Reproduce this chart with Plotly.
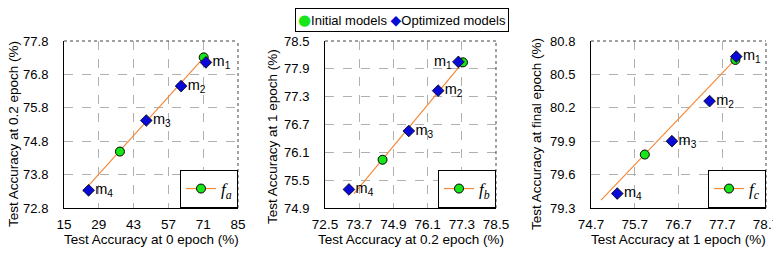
import plotly.graph_objects as go

labels = ["m<sub>1</sub>", "m<sub>2</sub>", "m<sub>3</sub>", "m<sub>4</sub>"]

# Panel a
a_init_x = [71.2, 37.5]
a_init_y = [77.31, 74.49]
a_opt_x = [72.1, 62.1, 48.1, 24.9]
a_opt_y = [77.16, 76.45, 75.42, 73.33]
a_fit_x = [22.6, 71.2]
a_fit_y = [73.28, 77.30]
a_xticks = [15, 29, 43, 57, 71, 85]
a_yticks = [72.8, 73.8, 74.8, 75.8, 76.8, 77.8]

# Panel b
b_init_x = [77.34, 74.52]
b_init_y = [78.04, 75.94]
b_opt_x = [77.18, 76.47, 75.44, 73.34]
b_opt_y = [78.05, 77.43, 76.56, 75.30]
b_fit_x = [73.52, 77.30]
b_fit_y = [75.21, 78.01]
b_xticks = [72.5, 73.7, 74.9, 76.1, 77.3, 78.5]
b_yticks = [74.9, 75.5, 76.1, 76.7, 77.3, 77.9, 78.5]

# Panel c
c_init_x = [78.0, 75.93]
c_init_y = [80.63, 79.78]
c_opt_x = [78.02, 77.41, 76.55, 75.30]
c_opt_y = [80.66, 80.26, 79.90, 79.43]
c_fit_x = [74.93, 77.96]
c_fit_y = [79.37, 80.62]
c_xticks = [74.7, 75.7, 76.7, 77.7, 78.7]
c_yticks = [79.3, 79.6, 79.9, 80.2, 80.5, 80.8]

series_names = ["Initial models", "Optimized models"]
fit_names = ["<i>f</i><sub><i>a</i></sub>", "<i>f</i><sub><i>b</i></sub>", "<i>f</i><sub><i>c</i></sub>"]
x_titles = ["Test Accuracy at 0 epoch (%)", "Test Accuracy at 0.2 epoch (%)", "Test Accuracy at 1 epoch (%)"]
y_titles = ["Test Accuracy at 0.2 epoch (%)", "Test Accuracy at 1 epoch (%)", "Test Accuracy at final epoch (%)"]

GREEN = "#19e619"
BLUE = "#0a0ad8"
ORANGE = "#f5893a"
FONT = "Liberation Sans, Arial, sans-serif"

panels = [
    (a_init_x, a_init_y, a_opt_x, a_opt_y, a_fit_x, a_fit_y, a_xticks, a_yticks,
     ["middle right"] * 4),
    (b_init_x, b_init_y, b_opt_x, b_opt_y, b_fit_x, b_fit_y, b_xticks, b_yticks,
     ["middle left", "middle right", "middle right", "middle right"]),
    (c_init_x, c_init_y, c_opt_x, c_opt_y, c_fit_x, c_fit_y, c_xticks, c_yticks,
     ["middle right"] * 4),
]

# page has an 8px body margin; figure is sized to fit the 781x253 window
W, H, OFF = 773, 245, 8
def px_x(p):
    return (p - OFF) / W
def px_y(q):
    return 1 - (q - OFF) / H

plot_px = [(64, 238), (325, 496), (591, 766)]
xdomains = [(px_x(a), px_x(b)) for a, b in plot_px]
ydomain = (px_y(208), px_y(41))
ytitle_px = [(14, 134), (272, 137), (537, 134)]
xtitle_py = 239

fig = go.Figure()
layout = dict(
    width=W, height=H,
    margin=dict(l=0, r=0, t=0, b=0, autoexpand=False),
    paper_bgcolor="white", plot_bgcolor="white",
    font=dict(family=FONT, size=13, color="black"),
    showlegend=True,
)
shapes = []
annotations = []

for i, (ix, iy, ox, oy, fx, fy, xt, yt, tpos) in enumerate(panels):
    n = "" if i == 0 else str(i + 1)
    xa, ya = "x" + n, "y" + n
    leg = "legend" + str(i + 2)
    fig.add_trace(go.Scatter(x=fx, y=fy, mode="lines", line=dict(color=ORANGE, width=1.2),
                             xaxis=xa, yaxis=ya, showlegend=False, hoverinfo="skip"))
    fig.add_trace(go.Scatter(x=ix, y=iy, mode="markers", name=series_names[0],
                             marker=dict(symbol="circle", size=9, color=GREEN,
                                         line=dict(color="black", width=1)),
                             xaxis=xa, yaxis=ya, showlegend=False))
    fig.add_trace(go.Scatter(x=ox, y=oy, mode="markers+text", name=series_names[1],
                             text=labels, textposition=tpos,
                             textfont=dict(family=FONT, size=14.5, color="black"),
                             marker=dict(symbol="diamond", size=9, color=BLUE,
                                         line=dict(color="black", width=0.8)),
                             xaxis=xa, yaxis=ya, showlegend=False))
    # legend sample for the fitted function
    fig.add_trace(go.Scatter(x=[None], y=[None], mode="lines+markers", name=fit_names[i],
                             line=dict(color=ORANGE, width=1.2),
                             marker=dict(symbol="circle", size=9, color=GREEN,
                                         line=dict(color="black", width=1)),
                             xaxis=xa, yaxis=ya, showlegend=True, legend=leg))
    layout["xaxis" + n] = dict(
        domain=list(xdomains[i]), anchor=ya, range=[xt[0], xt[-1]],
        tickvals=xt, ticktext=[("%g" % v) for v in xt],
        showgrid=True, gridcolor="#b0b0b0", griddash="dash", gridwidth=1,
        showline=True, linecolor="black", linewidth=1,
        ticks="", ticklabelstandoff=4, automargin=False,
        tickfont=dict(size=13.5), zeroline=False,
    )
    layout["yaxis" + n] = dict(
        domain=list(ydomain), anchor=xa, range=[yt[0], yt[-1]],
        tickvals=yt, ticktext=[("%.1f" % v) for v in yt],
        showgrid=True, gridcolor="#b0b0b0", griddash="dash", gridwidth=1,
        showline=True, linecolor="black", linewidth=1,
        ticks="", ticklabelstandoff=12, automargin=False,
        tickfont=dict(size=13), zeroline=False,
    )
    layout[leg] = dict(
        x=xdomains[i][1], xanchor="right", y=ydomain[0], yanchor="bottom",
        xref="paper", yref="paper",
        bgcolor="white", bordercolor="black", borderwidth=1,
        font=dict(family="Liberation Serif, Times New Roman, serif", size=17),
        itemwidth=30, tracegroupgap=0,
    )
    # axis titles
    annotations.append(dict(
        text=x_titles[i], x=(xdomains[i][0] + xdomains[i][1]) / 2, y=px_y(xtitle_py),
        xref="paper", yref="paper", xanchor="center", yanchor="middle",
        showarrow=False, font=dict(family=FONT, size=13.5, color="black"),
    ))
    annotations.append(dict(
        text=y_titles[i], x=px_x(ytitle_px[i][0]), y=px_y(ytitle_px[i][1]),
        xref="paper", yref="paper", xanchor="center", yanchor="middle",
        textangle=-90, showarrow=False, font=dict(family=FONT, size=13.5, color="black"),
    ))
    # dotted top/right frame
    shapes.append(dict(type="line", xref=xa + " domain", yref=ya + " domain",
                       x0=0, x1=1, y0=1, y1=1, line=dict(color="#444", width=1, dash="dot")))
    shapes.append(dict(type="line", xref=xa + " domain", yref=ya + " domain",
                       x0=1, x1=1, y0=0, y1=1, line=dict(color="#444", width=1, dash="dot")))

# Main shared legend (compact, boxed)
main_legend = (
    '<span style="color:%s;font-family:DejaVu Sans;font-size:15px">\u25CF</span>%s '
    '<span style="color:%s;font-family:DejaVu Sans;font-size:14px">\u25C6</span>%s'
    % (GREEN, series_names[0], BLUE, series_names[1])
)
annotations.append(dict(
    text=main_legend, x=px_x(401.5), y=1.0, xref="paper", yref="paper",
    xanchor="center", yanchor="top", showarrow=False,
    font=dict(family=FONT, size=13, color="black"),
    bgcolor="white", bordercolor="black", borderwidth=1, borderpad=2,
))
layout["annotations"] = annotations
layout["shapes"] = shapes
fig.update_layout(**layout)
fig.write_html("out.html")
